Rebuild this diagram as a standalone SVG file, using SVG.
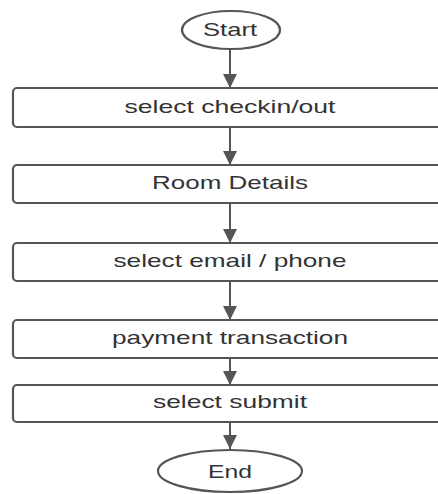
<svg xmlns="http://www.w3.org/2000/svg" width="438" height="494" viewBox="0 0 438 494">
<defs>
<style>
.box{fill:#fff;stroke:#555;stroke-width:2.2}
.t{font-family:"Liberation Sans",Arial,sans-serif;font-size:19px;fill:#333;text-anchor:middle}
.c{stroke:#555;stroke-width:2;fill:none}
</style>
<marker id="ah" viewBox="0 0 14 14" refX="14" refY="7" markerWidth="14" markerHeight="14" markerUnits="userSpaceOnUse" orient="auto">
<path d="M0,0 L14,7 L0,14 Z" fill="#555"/>
</marker>
</defs>
<rect width="438" height="494" fill="#fff"/>
<g id="connectors">
<line class="c" x1="230" y1="49" x2="230" y2="88" marker-end="url(#ah)"/>
<line class="c" x1="230" y1="127" x2="230" y2="165" marker-end="url(#ah)"/>
<line class="c" x1="230" y1="203" x2="230" y2="243" marker-end="url(#ah)"/>
<line class="c" x1="230" y1="281" x2="230" y2="320" marker-end="url(#ah)"/>
<line class="c" x1="230" y1="358" x2="230" y2="385" marker-end="url(#ah)"/>
<line class="c" x1="230" y1="422" x2="230" y2="449" marker-end="url(#ah)"/>
</g>
<g id="start">
<ellipse class="box" cx="231" cy="30" rx="49" ry="19"/>
<text class="t" x="230" y="36" textLength="54" lengthAdjust="spacingAndGlyphs">Start</text>
</g>
<g id="n1">
<rect class="box" x="13" y="88" width="440" height="39" rx="4"/>
<text class="t" x="230" y="113" textLength="211" lengthAdjust="spacingAndGlyphs">select checkin/out</text>
</g>
<g id="n2">
<rect class="box" x="13" y="165" width="440" height="38" rx="4"/>
<text class="t" x="230" y="189" textLength="156" lengthAdjust="spacingAndGlyphs">Room Details</text>
</g>
<g id="n3">
<rect class="box" x="13" y="243" width="440" height="38" rx="4"/>
<text class="t" x="230" y="267" textLength="233" lengthAdjust="spacingAndGlyphs">select email / phone</text>
</g>
<g id="n4">
<rect class="box" x="13" y="320" width="440" height="38" rx="4"/>
<text class="t" x="230" y="344" textLength="236" lengthAdjust="spacingAndGlyphs">payment transaction</text>
</g>
<g id="n5">
<rect class="box" x="13" y="385" width="440" height="37" rx="4"/>
<text class="t" x="230" y="408" textLength="154" lengthAdjust="spacingAndGlyphs">select submit</text>
</g>
<g id="end">
<ellipse class="box" cx="230" cy="471" rx="72" ry="21"/>
<text class="t" x="230" y="478" textLength="44" lengthAdjust="spacingAndGlyphs">End</text>
</g>
</svg>
